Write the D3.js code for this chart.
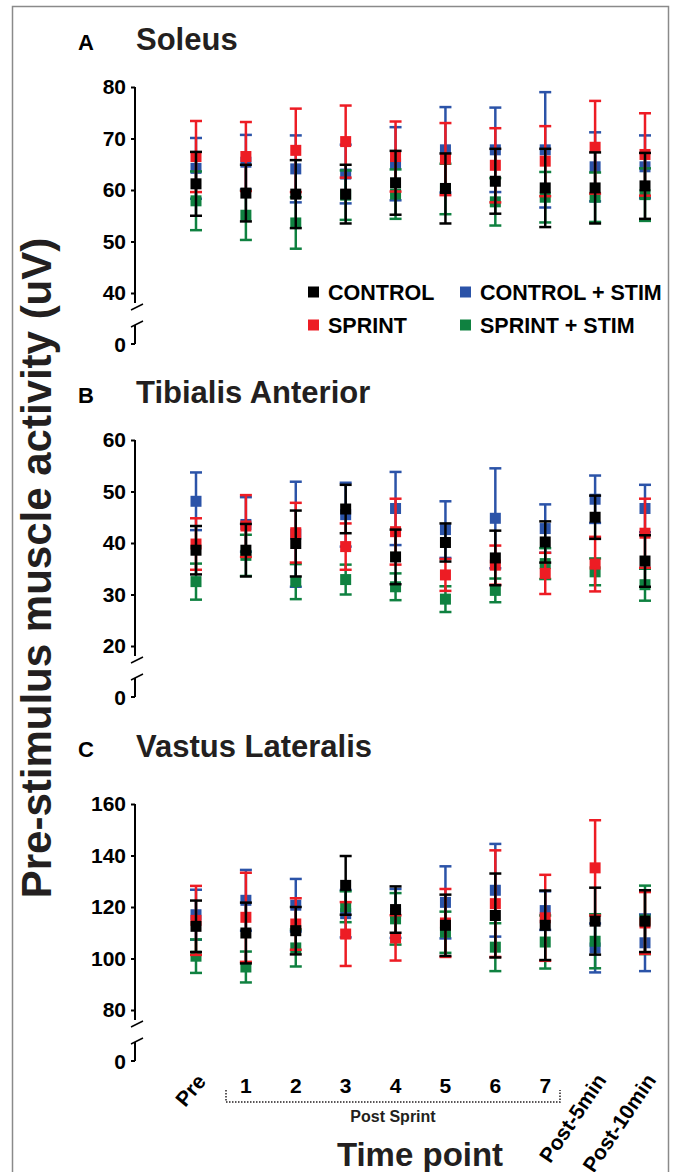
<!DOCTYPE html>
<html lang="en">
<head>
<meta charset="UTF-8">
<title>Pre-stimulus muscle activity</title>
<style>
    body { margin: 0; background: #fff; }
    svg { display: block; }
    text { font-family: "Liberation Sans", Arial, sans-serif; font-weight: bold; }
</style>
<script src="https://d3js.org/d3.v7.min.js"></script>
</head>
<body>
<svg width="675" height="1172"></svg>
<script>
// categories
const timePoints = ["Pre", "1", "2", "3", "4", "5", "6", "7", "Post-5min", "Post-10min"];
const seriesNames = ["CONTROL", "SPRINT", "CONTROL + STIM", "SPRINT + STIM"];
const seriesColors = ["#000000", "#ed1c24", "#2b53a8", "#0f8140"];

const panelLetters = ["A", "B", "C"];
const panelTitles = ["Soleus", "Tibialis Anterior", "Vastus Lateralis"];
const panelTicks = [[40, 50, 60, 70, 80], [20, 30, 40, 50, 60], [80, 100, 120, 140, 160]];

// Soleus (mean, SD)
const soleusControl = [61.2, 59.4, 59.2, 59.2, 61.4, 60.3, 61.7, 60.4, 60.4, 60.8];
const soleusControlSD = [6.2, 5.5, 6.6, 5.7, 6.2, 6.8, 6.3, 7.6, 6.9, 6.4];
const soleusSprint = [66.5, 66.5, 67.7, 69.4, 66.5, 66.0, 64.8, 65.6, 68.3, 66.9];
const soleusSprintSD = [6.9, 6.7, 8.1, 7.0, 6.8, 7.0, 7.2, 6.8, 9.0, 8.0];
const soleusControlStim = [64.2, 65.4, 64.1, 63.1, 65.1, 67.8, 67.8, 67.8, 64.5, 64.5];
const soleusControlStimSD = [5.9, 5.3, 6.5, 5.7, 7.1, 8.3, 8.2, 11.2, 6.7, 6.1];
const soleusSprintStim = [57.9, 55.1, 53.6, 59.0, 59.2, 60.2, 57.7, 58.6, 58.6, 59.1];
const soleusSprintStimSD = [5.7, 4.8, 5.0, 4.8, 4.8, 4.9, 4.6, 4.9, 4.8, 5.1];

// Tibialis Anterior
const tibialisControl = [38.6, 38.6, 39.9, 46.6, 37.3, 40.1, 37.1, 40.2, 45.0, 36.5];
const tibialisControlSD = [4.7, 5.1, 6.4, 4.7, 5.3, 3.7, 5.3, 4.0, 4.2, 5.0];
const tibialisSprint = [39.8, 43.3, 42.0, 39.3, 42.2, 33.8, 35.7, 34.1, 35.9, 41.9];
const tibialisSprintSD = [5.0, 6.0, 5.8, 4.5, 6.4, 3.1, 3.8, 4.0, 5.3, 6.7];
const tibialisControlStim = [48.1, 43.6, 41.7, 45.5, 46.7, 42.6, 44.8, 42.8, 48.5, 46.7];
const tibialisControlStimSD = [5.6, 5.3, 10.2, 6.2, 7.1, 5.5, 9.7, 4.7, 4.6, 4.6];
const tibialisSprintStim = [32.5, 37.6, 32.5, 32.9, 31.5, 29.1, 30.8, 36.0, 34.4, 31.9];
const tibialisSprintStimSD = [3.5, 4.0, 3.4, 2.9, 2.6, 2.5, 2.3, 3.0, 2.6, 3.1];

// Vastus Lateralis
const vastusControl = [112.5, 109.9, 110.8, 128.4, 119.0, 112.9, 116.7, 112.9, 114.5, 114.5];
const vastusControlSD = [10.0, 11.8, 9.2, 11.4, 9.0, 11.9, 16.3, 13.5, 13.0, 12.0];
const vastusSprint = [114.8, 116.0, 113.4, 109.5, 108.0, 113.8, 121.3, 115.8, 135.2, 113.8];
const vastusSprintSD = [13.4, 17.3, 10.0, 12.4, 8.8, 13.2, 20.7, 16.7, 18.5, 12.0];
const vastusControlStim = [117.0, 122.6, 120.7, 117.4, 117.5, 121.8, 126.5, 118.6, 104.1, 106.1];
const vastusControlStimSD = [9.7, 11.8, 10.2, 9.2, 9.5, 14.0, 18.0, 7.5, 9.5, 11.0];
const vastusSprintStim = [100.9, 96.7, 104.1, 120.1, 115.4, 110.2, 104.4, 106.4, 106.7, 115.0];
const vastusSprintStimSD = [6.5, 6.0, 7.2, 6.0, 10.0, 8.0, 9.3, 10.3, 10.5, 13.3];

// per panel: series in legend order [control, sprint, control+stim, sprint+stim]
const panelMeans = [
    [soleusControl, soleusSprint, soleusControlStim, soleusSprintStim],
    [tibialisControl, tibialisSprint, tibialisControlStim, tibialisSprintStim],
    [vastusControl, vastusSprint, vastusControlStim, vastusSprintStim]
];
const panelSDs = [
    [soleusControlSD, soleusSprintSD, soleusControlStimSD, soleusSprintStimSD],
    [tibialisControlSD, tibialisSprintSD, tibialisControlStimSD, tibialisSprintStimSD],
    [vastusControlSD, vastusSprintSD, vastusControlStimSD, vastusSprintStimSD]
];

// layout
const svg = d3.select("svg");
const axisX = 135;
const panelTop = [87, 440, 804];
const titleY = [50, 403, 757];
const axisLen = 206;
const drawOrder = [2, 3, 1, 0];   // blue, green, red, black on top
const sq = 11, cap = 12;
const dark = "#231f20";

// frame
svg.append("rect")
    .attr("x", 12.5).attr("y", 6.5)
    .attr("width", 656).attr("height", 1200)
    .attr("fill", "none").attr("stroke", "#8a8a8a").attr("stroke-width", 1.5);

const x = d3.scalePoint().domain(timePoints).range([196, 645]);

panelTitles.forEach((title, p) => {
    const top = panelTop[p];
    const ticks = panelTicks[p];
    const y = d3.scaleLinear().domain([ticks[0], ticks[ticks.length - 1]]).range([top + axisLen, top]);
    const yEnd = top + axisLen + 10;
    const yZero = top + axisLen + 51;

    const g = svg.append("g");

    // letter + title
    g.append("text").attr("x", 78).attr("y", titleY[p])
        .attr("font-size", 22).attr("fill", "#000").text(panelLetters[p]);
    g.append("text").attr("x", 136).attr("y", titleY[p])
        .attr("font-size", 31).attr("fill", dark).text(title);

    // upper axis
    const axis = g.append("g")
        .attr("transform", `translate(${axisX},0)`)
        .call(d3.axisLeft(y).tickValues(ticks).tickSize(4).tickPadding(5).tickSizeOuter(0));
    axis.select(".domain").remove();
    axis.selectAll("line").attr("stroke", "#000").attr("stroke-width", 2);
    axis.selectAll("text").attr("font-size", 21).attr("fill", "#000")
        .attr("font-family", "'Liberation Sans', Arial, sans-serif").attr("font-weight", "bold");
    g.append("line").attr("x1", axisX).attr("x2", axisX).attr("y1", top).attr("y2", yEnd)
        .attr("stroke", "#000").attr("stroke-width", 2);

    // break marks
    g.append("line").attr("x1", axisX - 4).attr("y1", yEnd + 7).attr("x2", axisX + 8).attr("y2", yEnd + 1)
        .attr("stroke", "#000").attr("stroke-width", 1.5);
    g.append("line").attr("x1", axisX - 4).attr("y1", yZero - 17).attr("x2", axisX + 8).attr("y2", yZero - 23)
        .attr("stroke", "#000").attr("stroke-width", 1.5);

    // lower axis segment with 0
    g.append("line").attr("x1", axisX).attr("x2", axisX).attr("y1", yZero - 19).attr("y2", yZero)
        .attr("stroke", "#000").attr("stroke-width", 2);
    g.append("line").attr("x1", axisX - 4).attr("x2", axisX).attr("y1", yZero).attr("y2", yZero)
        .attr("stroke", "#000").attr("stroke-width", 2);
    g.append("text").attr("x", axisX - 9).attr("y", yZero).attr("dy", "0.36em")
        .attr("text-anchor", "end").attr("font-size", 21).text("0");

    // series
    drawOrder.forEach(s => {
        const means = panelMeans[p][s];
        const sds = panelSDs[p][s];
        const pts = timePoints.map((t, i) => ({ t, m: means[i], sd: sds[i] }));
        const sg = g.append("g").attr("stroke", seriesColors[s]).attr("fill", seriesColors[s]);

        sg.selectAll(".bar").data(pts).enter().append("line")
            .attr("x1", d => x(d.t)).attr("x2", d => x(d.t))
            .attr("y1", d => y(d.m - d.sd)).attr("y2", d => y(d.m + d.sd))
            .attr("stroke-width", 2.5);
        sg.selectAll(".capTop").data(pts).enter().append("line")
            .attr("x1", d => x(d.t) - cap / 2).attr("x2", d => x(d.t) + cap / 2)
            .attr("y1", d => y(d.m + d.sd)).attr("y2", d => y(d.m + d.sd))
            .attr("stroke-width", 2.5);
        sg.selectAll(".capBot").data(pts).enter().append("line")
            .attr("x1", d => x(d.t) - cap / 2).attr("x2", d => x(d.t) + cap / 2)
            .attr("y1", d => y(d.m - d.sd)).attr("y2", d => y(d.m - d.sd))
            .attr("stroke-width", 2.5);
        sg.selectAll("rect").data(pts).enter().append("rect")
            .attr("x", d => x(d.t) - sq / 2).attr("y", d => y(d.m) - sq / 2)
            .attr("width", sq).attr("height", sq).attr("stroke", "none");
    });

    // legend in panel A
    if (p === 0) {
        const legX = [308, 460];
        const legY = [292, 325];
        seriesNames.forEach((name, s) => {
            const lx = legX[Math.floor(s / 2)];
            const ly = legY[s % 2];
            g.append("rect").attr("x", lx).attr("y", ly - 5.5).attr("width", sq).attr("height", sq)
                .attr("fill", seriesColors[s]);
            g.append("text").attr("x", lx + 20).attr("y", ly).attr("dy", "0.36em")
                .attr("font-size", 21.5).attr("fill", "#000").text(name);
        });
    }
});

// y axis title
svg.append("text")
    .attr("transform", "translate(51,568) rotate(-90)")
    .attr("text-anchor", "middle")
    .attr("font-size", 42).attr("fill", dark)
    .text("Pre-stimulus muscle activity (uV)");

// x tick labels
const isPost = t => /^[1-7]$/.test(t);
svg.selectAll(".xlab").data(timePoints).enter().append("text")
    .attr("font-size", 21).attr("fill", "#000")
    .attr("text-anchor", d => isPost(d) ? "middle" : "end")
    .attr("transform", d => {
        if (isPost(d)) return `translate(${x(d)},1093)`;
        if (d === "Pre") return `translate(${x(d) + 11},1082) rotate(-50)`;
        return `translate(${x(d) + 12},1080) rotate(-56)`;
    })
    .text(d => d);

// post sprint bracket
svg.append("path")
    .attr("d", `M226,1090V1102H560V1090`)
    .attr("fill", "none").attr("stroke", dark).attr("stroke-width", 1.5)
    .attr("stroke-dasharray", "1.5,1.5");
svg.append("text").attr("x", 393).attr("y", 1122).attr("text-anchor", "middle")
    .attr("font-size", 16).attr("fill", dark).text("Post Sprint");

svg.append("text").attr("x", 420).attr("y", 1166).attr("text-anchor", "middle")
    .attr("font-size", 33).attr("fill", dark).text("Time point");
</script>
</body>
</html>
